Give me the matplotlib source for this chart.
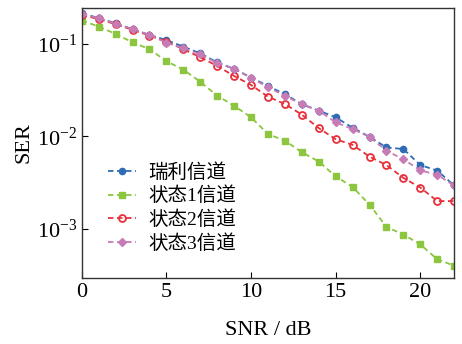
import numpy as np
import matplotlib
matplotlib.use('Agg')
from matplotlib import pyplot as plt
from matplotlib.ticker import NullLocator

snr = np.arange(0, 23)
ser_rayleigh = [0.215, 0.19, 0.167, 0.144, 0.125, 0.110, 0.0935, 0.079, 0.063, 0.0537, 0.0433, 0.0351,
                0.0286, 0.0223, 0.019, 0.0161, 0.0124, 0.0099, 0.0076, 0.0073, 0.0049, 0.00427, 0.00295]
ser_state1 = [0.179, 0.154, 0.128, 0.104, 0.0877, 0.065, 0.0527, 0.039, 0.0276, 0.0214, 0.0161, 0.0106,
              0.009, 0.00675, 0.00535, 0.0037, 0.00284, 0.00183, 0.00105, 0.00087, 0.00068, 0.00047, 0.0004]
ser_state2 = [0.205, 0.186, 0.163, 0.142, 0.123, 0.106, 0.0877, 0.0718, 0.0578, 0.045, 0.036, 0.0269,
              0.0224, 0.0172, 0.0123, 0.00933, 0.0081, 0.00605, 0.0049, 0.00356, 0.0028, 0.002, 0.002]
ser_state3 = [0.21, 0.19, 0.165, 0.145, 0.125, 0.103, 0.09, 0.077, 0.062, 0.054, 0.043, 0.034,
              0.0275, 0.0222, 0.019, 0.0142, 0.012, 0.0099, 0.0070, 0.00566, 0.0043, 0.00384, 0.00295]
labels = ['瑞利信道', '状态1信道', '状态2信道', '状态3信道']

plt.rcParams['font.family'] = ['Liberation Serif', 'Noto Sans CJK SC']
plt.rcParams['mathtext.fontset'] = 'stix'

fig = plt.figure(figsize=(4.62, 3.44), dpi=100)
ax = fig.add_axes([0.177, 0.192, 0.806, 0.785])

ax.plot(snr, ser_rayleigh, '--o', color='#2e6db5', ms=4.5, lw=1.3, dashes=(3, 2), label=labels[0])
ax.plot(snr, ser_state1, '--s', color='#8cc63f', ms=4, lw=1.3, dashes=(3, 2), label=labels[1])
ax.plot(snr, ser_state2, '--o', color='#e8303a', ms=5, lw=1.3, dashes=(3, 2), mfc='none', mew=1.3,
        label=labels[2])
ax.plot(snr, ser_state3, '--D', color='#c77cb6', ms=4.5, lw=1.3, dashes=(3, 2), label=labels[3])

ax.set_yscale('log')
ax.set_xlim(0, 22)
ax.set_ylim(2.95e-4, 0.245)
ax.set_xticks([0, 5, 10, 15, 20])
ax.set_yticks([1e-3, 1e-2, 1e-1])
ax.yaxis.set_minor_locator(NullLocator())
ax.tick_params(direction='in', labelsize=16, length=4, width=0.8)
for s in ax.spines.values():
    s.set_linewidth(1.0)
    s.set_color('#333333')

ax.set_xlabel('SNR / dB', fontsize=16, labelpad=14)
ax.set_ylabel('SER', fontsize=16, labelpad=2)

ax.legend(loc='upper left', bbox_to_anchor=(0.024, 0.49), frameon=False, fontsize=14,
          handlelength=1.45, handletextpad=0.6, labelspacing=0.25)

fig.savefig('out.png', dpi=100)
